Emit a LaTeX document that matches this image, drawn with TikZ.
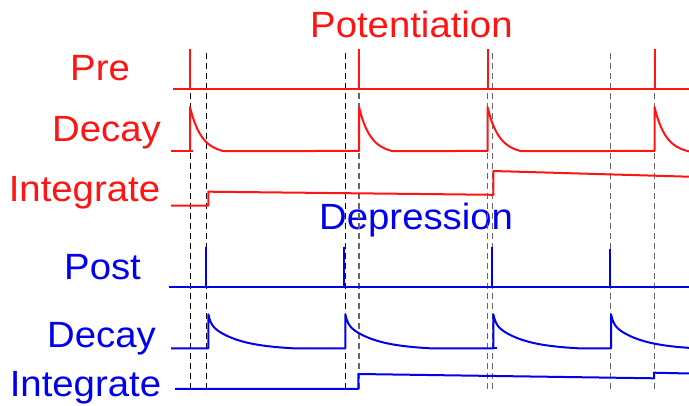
\documentclass[tikz,border=0pt]{standalone}
\usepackage{fontspec}
\newfontfamily\labfont[FakeStretch=1.05]{Liberation Sans}
\definecolor{redc}{RGB}{255,20,20}
\definecolor{bluec}{RGB}{0,0,235}
\tikzset{
  lab/.style={inner sep=0pt, anchor=base west, font=\labfont\fontsize{36.5}{40}\selectfont},
  redlab/.style={lab, text=redc},
  bluelab/.style={lab, text=bluec},
  redline/.style={draw=redc, line width=2pt, line join=round},
  blueline/.style={draw=bluec, line width=2pt, line join=round},
  guideblack/.style={draw=black, line width=1pt, dash pattern=on 6pt off 4pt},
  guidegray/.style={draw=black!60, line width=1.4pt, dash pattern=on 6pt off 4pt}
}
\begin{document}
\begin{tikzpicture}[x=1pt,y=-1pt]
\useasboundingbox (0,0) rectangle (689,406);
\fill[white] (0,0) rectangle (689,406);

% labels
\node[redlab] (pot) at (310,37.7) {Potentiation};
\node[redlab] (pre) at (70,81) {Pre};
\node[redlab] (rdecay) at (52,141.7) {Decay};
\node[redlab] (rint) at (8.6,201.7) {Integrate};
\node[bluelab] (dep) at (319,230) {Depression};
\node[bluelab] (post) at (64,280) {Post};
\node[bluelab] (bdecay) at (47,347.7) {Decay};
\node[bluelab] (bint) at (9.6,396.7) {Integrate};

% dashed guides
\foreach \g in {190.7,206.3,345.3}
  \draw[guideblack] (\g,53) -- (\g,393);
\foreach \g in {359,487.3,492.5,610.3,654.3}
  \draw[guidegray] (\g,53) -- (\g,390);

% Pre
\draw[redline] (173,89) -- (689,89);
\foreach \s in {190,359,487.5,654.5}
  \draw[redline] (\s,89) -- (\s,49);

% red decay
\draw[redline] (171,151) -- (193,151);
\draw[redline] (190,151)
  -- plot[domain=0:33,samples=30] ({190+\x},{151-44*(exp(-\x/11)-0.001515*\x)})
  -- (359,151)
  -- plot[domain=0:33,samples=30] ({359+\x},{151-44*(exp(-\x/11)-0.001515*\x)})
  -- (487.5,151)
  -- plot[domain=0:33,samples=30] ({487.5+\x},{151-44*(exp(-\x/11)-0.001515*\x)})
  -- (654.5,151)
  -- plot[domain=0:34.5,samples=30] ({654.5+\x},{151-44*(exp(-\x/11)-0.001515*\x)});

% red integrate
\draw[redline] (171,205.7) -- (208.3,205.7) -- (208.3,191.7) -- (493.3,194.8)
  -- (493.3,171) -- (689,176.7);

% Post
\draw[blueline] (169,286.7) -- (689,286.7);
\draw[blueline] (206.3,286.7) -- (206.3,247);
\draw[blueline] (344.3,286.7) -- (344.3,247);
\draw[blueline] (491.7,286.7) -- (491.7,247);
\draw[blueline] (610,286.7) -- (610,249);

% blue decay
\draw[blueline] (171,348.3) -- (208.3,348.3)
  -- plot[domain=0:85,samples=60] ({208.3+\x},{348.3-34*(0.27*exp(-\x/2.5)+0.73*exp(-\x/28)-0.000412*\x)})
  -- (345.3,348.3)
  -- plot[domain=0:85,samples=60] ({345.3+\x},{348.3-34*(0.27*exp(-\x/2.5)+0.73*exp(-\x/28)-0.000412*\x)})
  -- (493.3,348.3)
  -- plot[domain=0:85,samples=60] ({493.3+\x},{348.3-34*(0.27*exp(-\x/2.5)+0.73*exp(-\x/28)-0.000412*\x)})
  -- (611,348.3)
  -- plot[domain=0:78,samples=60] ({611+\x},{348.3-34*(0.27*exp(-\x/2.5)+0.73*exp(-\x/28)-0.000412*\x)});
\draw[blueline] (493.3,348.3) -- (496.7,348.3);

% blue integrate
\draw[blueline] (175,389) -- (358.3,389) -- (358.3,374) -- (654,378.3)
  -- (654,372.7) -- (689,373.5);
\end{tikzpicture}
\end{document}
